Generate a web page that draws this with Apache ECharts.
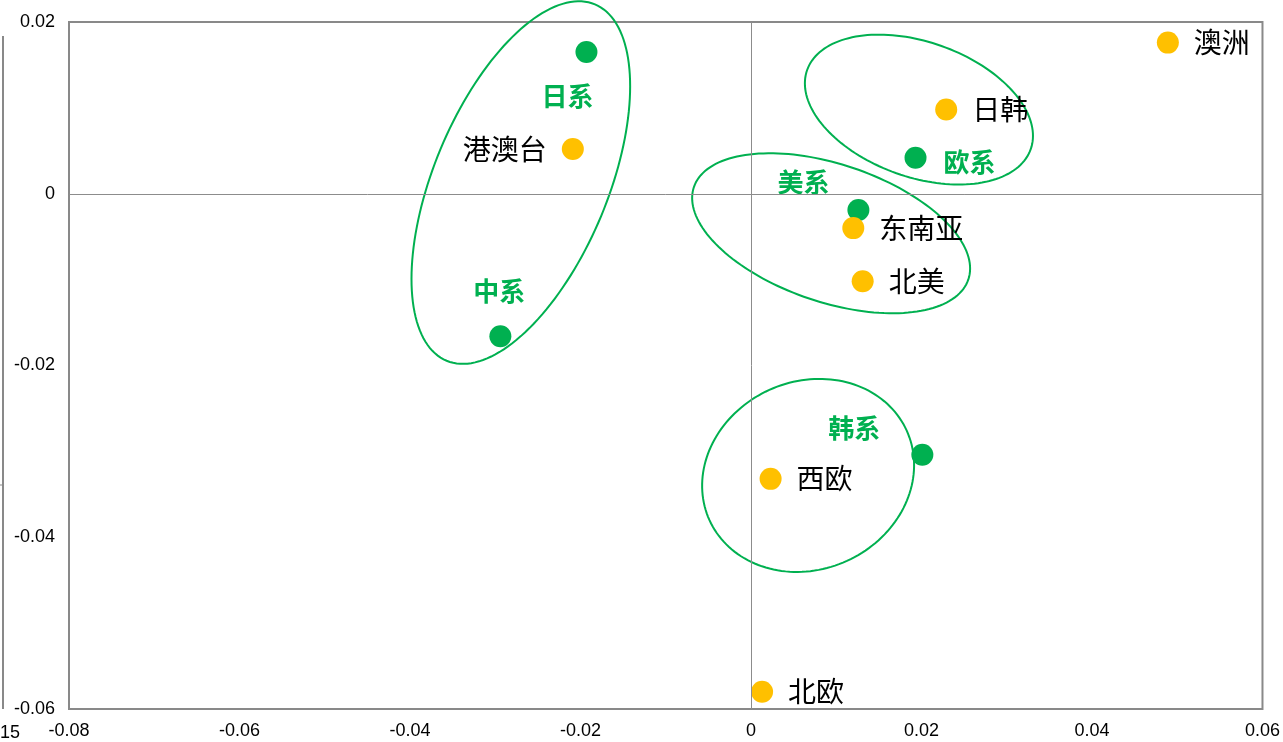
<!DOCTYPE html>
<html><head><meta charset="utf-8">
<script src="https://cdn.jsdelivr.net/npm/echarts@6/dist/echarts.min.js"></script>
<style>html,body{margin:0;padding:0;background:#fff;}#c{width:1283px;height:742px;}</style>
</head><body><div id="c"></div>
<script>
// Region points (orange)
const regionNames = ['澳洲','日韩','港澳台','东南亚','北美','西欧','北欧'];
const regionX = [0.0489, 0.0229, -0.0209, 0.0120, 0.0131, 0.0023, 0.0013];
const regionY = [0.0176, 0.0098, 0.0052, -0.0040, -0.0102, -0.0332, -0.0580];
// Brand points (green)
const brandNames = ['日系','中系','欧系','美系','韩系'];
const brandX = [-0.0193, -0.0294, 0.0193, 0.0126, 0.0201];
const brandY = [0.0165, -0.0166, 0.0042, -0.0019, -0.0304];
// Cluster ellipse centres (data units)
const ellipseX = [-0.0270, 0.0197, 0.0094, 0.0067];
const ellipseY = [0.0013, 0.0098, -0.0046, -0.0328];
// Axis ticks
const xTicks = [-0.08, -0.06, -0.04, -0.02, 0, 0.02, 0.04, 0.06];
const yTicks = [-0.06, -0.04, -0.02, 0, 0.02];

// styles (pixels): ellipse radii and rotation, label placement
const ellipseShape = [[87,193,22.6],[118.6,67.5,19.5],[144.8,68.9,18.6],[108.3,93.9,-24.4]];
const regionLabelPos = ['right','right','left','right','right','right','right'];
const brandLabelOffset = [[-19,44],[-1,-45],[54,4],[-55,-28],[-68,-27]];

const ORANGE = '#FFC000', GREEN = '#00B050';
const fmt = v => String(+(+v).toFixed(2));

const chart = echarts.init(document.getElementById('c'));
chart.setOption({
  animation: false,
  backgroundColor: '#fff',
  grid: {left: 69, right: 19, top: 22, bottom: 33, show: true, borderColor: '#898989', borderWidth: 2, backgroundColor: 'transparent'},
  xAxis: {type: 'value', min: xTicks[0], max: xTicks[xTicks.length-1], interval: 0.02,
    axisLine: {show: false}, axisTick: {show: false}, splitLine: {show: false},
    axisLabel: {formatter: fmt, color: '#000', fontSize: 18, fontFamily: 'Liberation Sans, Arial', margin: 13}},
  yAxis: {type: 'value', min: yTicks[0], max: yTicks[yTicks.length-1], interval: 0.02,
    axisLine: {show: false}, axisTick: {show: false}, splitLine: {show: false},
    axisLabel: {formatter: fmt, color: '#000', fontSize: 18, fontFamily: 'Liberation Sans, Arial', margin: 14}},
  graphic: [
    {type: 'line', shape: {x1: 3, y1: 36, x2: 3, y2: 709}, style: {stroke: '#898989', lineWidth: 2}},
    {type: 'line', shape: {x1: 0, y1: 485, x2: 3, y2: 485}, style: {stroke: '#898989', lineWidth: 1}},
    {type: 'text', left: 0, top: 724, style: {text: '15', font: '18px "Liberation Sans", Arial', fill: '#000'}}
  ],
  series: [
    {
      type: 'custom', z: 1, silent: true, clip: false,
      encode: {x: 0, y: 1},
      data: ellipseX.map((x, i) => [x, ellipseY[i]]),
      renderItem: (params, api) => {
        const c = api.coord([api.value(0), api.value(1)]);
        const s = ellipseShape[params.dataIndex];
        const rx = s[0], ry = s[1], a = s[2] * Math.PI / 180;
        const pts = [];
        for (let i = 0; i < 160; i++) {
          const t = i / 160 * 2 * Math.PI;
          pts.push([c[0] + rx*Math.cos(t)*Math.cos(a) - ry*Math.sin(t)*Math.sin(a),
                    c[1] + rx*Math.cos(t)*Math.sin(a) + ry*Math.sin(t)*Math.cos(a)]);
        }
        return {type: 'polygon', shape: {points: pts}, style: {fill: 'none', stroke: GREEN, lineWidth: 2}};
      },
      markLine: {
        silent: true, symbol: 'none', label: {show: false},
        lineStyle: {color: '#8c8c8c', width: 1, type: 'solid', opacity: 1},
        data: [{xAxis: 0}, {yAxis: 0}]
      }
    },
    {
      type: 'scatter', z: 3, symbolSize: 22,
      itemStyle: {color: GREEN, opacity: 1},
      data: brandX.map((x, i) => ({
        value: [x, brandY[i]], name: brandNames[i],
        label: {show: true, position: 'inside', offset: brandLabelOffset[i], formatter: brandNames[i],
          color: GREEN, opacity: 1, fontSize: 26, fontWeight: 'bold', fontFamily: 'Noto Sans CJK SC'}
      }))
    },
    {
      type: 'scatter', z: 4, symbolSize: 22,
      itemStyle: {color: ORANGE, opacity: 1},
      data: regionX.map((x, i) => ({
        value: [x, regionY[i]], name: regionNames[i],
        label: {show: true, position: regionLabelPos[i], distance: 15, formatter: regionNames[i],
          color: '#000', opacity: 1, fontSize: 28, fontFamily: 'Noto Sans CJK SC'}
      }))
    }
  ]
});
</script></body></html>
